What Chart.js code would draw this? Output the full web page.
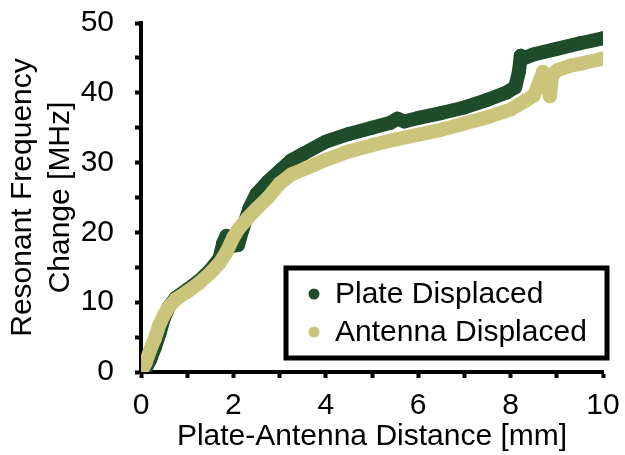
<!DOCTYPE html>
<html>
<head>
<meta charset="utf-8">
<script src="https://cdn.jsdelivr.net/npm/chart.js@4"></script>
<style>
  html, body { margin: 0; padding: 0; background: #ffffff; }
  #wrap { width: 625px; height: 455px; }
</style>
</head>
<body>
<div id="wrap"><canvas id="c" width="625" height="455"></canvas></div>
<script>
// ---- data ----
const seriesNames = ['Plate Displaced', 'Antenna Displaced'];
const seriesColors = ['#1f4d2b', '#cbc47b'];

const plateX = [0, 0.1, 0.2, 0.3, 0.4, 0.5, 0.6, 0.75, 1.0, 1.25, 1.5, 1.7, 1.78, 1.85, 1.95, 2.1, 2.2, 2.35, 2.5, 2.75, 3.0, 3.25, 3.5, 4.0, 4.5, 5.0, 5.4, 5.55, 5.7, 6.0, 6.5, 7.0, 7.5, 7.9, 8.1, 8.18, 8.22, 8.3, 8.5, 9.0, 9.5, 10.0];
const plateY = [0, 0.5, 1.8, 3.5, 5.5, 7.8, 9.3, 10.6, 11.8, 13.0, 14.6, 16.3, 18.5, 19.5, 18.0, 18.2, 20.5, 23.5, 25.5, 27.3, 28.8, 30.3, 31.2, 33.0, 34.1, 35.0, 35.7, 36.3, 35.9, 36.4, 37.1, 37.9, 39.0, 40.0, 40.8, 43.0, 45.3, 45.0, 45.5, 46.3, 47.1, 47.8];

const antennaX = [0, 0.1, 0.2, 0.3, 0.4, 0.5, 0.6, 0.75, 1.0, 1.25, 1.5, 1.7, 1.85, 2.0, 2.1, 2.3, 2.5, 2.75, 3.0, 3.25, 3.5, 3.75, 4.0, 4.5, 5.0, 5.5, 6.0, 6.5, 7.0, 7.5, 8.0, 8.3, 8.5, 8.62, 8.7, 8.8, 8.85, 8.9, 9.0, 9.3, 9.6, 10.0];
const antennaY = [0, 1.3, 3.2, 4.8, 6.8, 8.2, 9.3, 10.4, 11.5, 12.7, 14.2, 15.6, 17.2, 19.3, 20.4, 22.0, 23.4, 25.0, 27.0, 28.3, 29.0, 29.7, 30.4, 31.6, 32.5, 33.3, 34.0, 34.7, 35.6, 36.5, 37.6, 38.8, 39.6, 41.5, 43.0, 41.0, 39.5, 42.5, 43.2, 43.9, 44.3, 44.9];

const xTickLabels = ['0', '2', '4', '6', '8', '10'];
const yTickLabels = ['0', '10', '20', '30', '40', '50'];
const xTitle = 'Plate-Antenna Distance [mm]';
const yTitle = ['Resonant Frequency', 'Change [MHz]'];

// ---- chart ----
const FONT = "'Liberation Sans', Arial, sans-serif";
const FS = 30;

function toPoints(xs, ys) { return xs.map((x, i) => ({ x: x, y: ys[i] })); }

const legendBox = {
  id: 'legendBox',
  afterDatasetsDraw(chart) {
    const ctx = chart.ctx;
    const a = chart.chartArea;
    const left = a.right - 317, top = a.top + 245, w = 321, h = 90;
    ctx.save();
    ctx.fillStyle = '#ffffff';
    ctx.fillRect(left, top, w, h);
    ctx.lineWidth = 5;
    ctx.strokeStyle = '#000000';
    ctx.strokeRect(left, top, w, h);
    ctx.font = FS + 'px ' + FONT;
    ctx.textBaseline = 'middle';
    ctx.textAlign = 'left';
    const rows = [top + 26, top + 64];
    seriesNames.forEach((name, i) => {
      ctx.fillStyle = seriesColors[i];
      ctx.beginPath();
      ctx.arc(left + 28, rows[i], 5.5, 0, Math.PI * 2);
      ctx.fill();
      ctx.fillStyle = '#000000';
      ctx.fillText(name, left + 49, rows[i] + 1);
    });
    ctx.restore();
  }
};

new Chart(document.getElementById('c'), {
  type: 'scatter',
  data: {
    datasets: [
      {
        label: seriesNames[0],
        data: toPoints(plateX, plateY),
        showLine: true,
        borderColor: seriesColors[0],
        backgroundColor: seriesColors[0],
        borderWidth: 14,
        borderCapStyle: 'round',
        borderJoinStyle: 'round',
        pointRadius: 7,
        pointBorderWidth: 0,
        tension: 0,
        order: 2
      },
      {
        label: seriesNames[1],
        data: toPoints(antennaX, antennaY),
        showLine: true,
        borderColor: seriesColors[1],
        backgroundColor: seriesColors[1],
        borderWidth: 14,
        borderCapStyle: 'round',
        borderJoinStyle: 'round',
        pointRadius: 7,
        pointBorderWidth: 0,
        tension: 0,
        order: 1
      }
    ]
  },
  options: {
    responsive: false,
    animation: false,
    events: [],
    layout: { padding: { top: 23, right: 22, left: 0, bottom: 0 } },
    plugins: { legend: { display: false }, tooltip: { enabled: false } },
    scales: {
      x: {
        type: 'linear',
        min: 0, max: 10,
        afterFit(s) { s.height = 83; s.paddingLeft = 0; s.paddingRight = 0; },
        border: { display: true, color: '#000', width: 4 },
        grid: { drawOnChartArea: false, drawTicks: true, tickLength: 6, tickWidth: 4, tickColor: '#000' },
        ticks: {
          stepSize: 1,
          color: '#000',
          font: { family: FONT, size: FS },
          padding: 10,
          maxRotation: 0,
          autoSkip: false,
          callback: (v) => { const s = String(v); return xTickLabels.includes(s) ? s : ''; }
        },
        title: {
          display: true, text: xTitle, color: '#000',
          font: { family: FONT, size: FS }, padding: { top: 0, bottom: 0 }
        }
      },
      y: {
        type: 'linear',
        min: 0, max: 50,
        afterFit(s) { s.width = 141; s.paddingTop = 0; s.paddingBottom = 0; },
        border: { display: true, color: '#000', width: 4 },
        grid: { drawOnChartArea: false, drawTicks: true, tickLength: 6, tickWidth: 4, tickColor: '#000' },
        ticks: {
          stepSize: 5,
          color: '#000',
          font: { family: FONT, size: FS },
          padding: 21,
          autoSkip: false,
          callback: (v) => { const s = String(v); return yTickLabels.includes(s) ? s : ''; }
        },
        title: {
          display: true, text: yTitle, color: '#000',
          font: { family: FONT, size: FS, lineHeight: 1.25 }, padding: { top: 4, bottom: 0 }
        }
      }
    }
  },
  plugins: [legendBox]
});
</script>
</body>
</html>
